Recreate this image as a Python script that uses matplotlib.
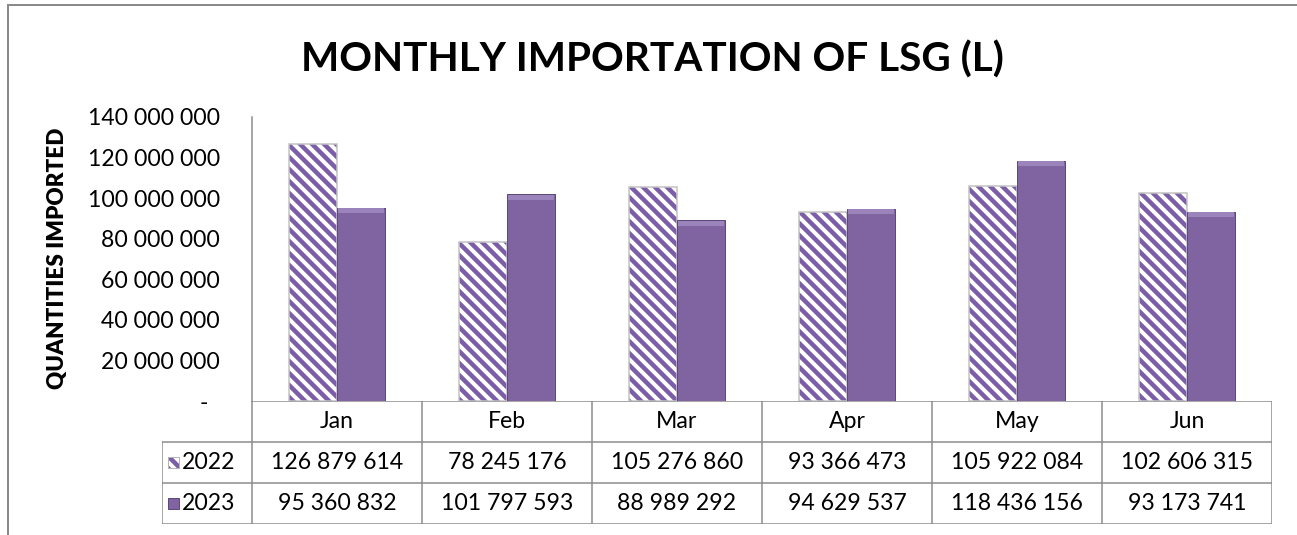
import matplotlib
matplotlib.use("Agg")
import matplotlib.pyplot as plt
import numpy as np
from matplotlib.patches import Rectangle
from matplotlib.lines import Line2D

# data
months = ["Jan", "Feb", "Mar", "Apr", "May", "Jun"]
years = ["2022", "2023"]
y2022 = [126879614, 78245176, 105276860, 93366473, 105922084, 102606315]
y2023 = [95360832, 101797593, 88989292, 94629537, 118436156, 93173741]
yticks = [0, 20000000, 40000000, 60000000, 80000000, 100000000, 120000000, 140000000]

W, H, DPI = 1297, 535, 72
PURPLE = "#8064a2"
STRIPE = "#7b5ea7"
GRID = "#8a8a8a"

plt.rcParams["font.family"] = ["Lato", "DejaVu Sans"]
plt.rcParams["hatch.linewidth"] = 4.5


def fx(px):
    return px / W


def fy(py):
    return 1 - py / H


def fmt(v):
    if v == 0:
        return "-  "
    return f"{v:,}".replace(",", " ")


fig = plt.figure(figsize=(W / DPI, H / DPI), dpi=DPI)

# outer chart frame (only top and left edges are inside the picture)
fig.add_artist(Line2D([fx(8), fx(8)], [fy(5), 0], color=GRID, lw=2))
fig.add_artist(Line2D([fx(8), 1], [fy(5), fy(5)], color=GRID, lw=2))

fig.text(fx(652), fy(72), "MONTHLY IMPORTATION OF LSG (L)", ha="center",
         va="baseline", fontsize=40.5, fontweight="bold")
fig.text(fx(58), fy(258), "QUANTITIES IMPORTED", rotation=90, ha="center",
         va="center", fontsize=22.5, fontweight="heavy")

# plot area
left, right, top, bottom = 252, 1272, 117, 401
ax = fig.add_axes([fx(left), fy(bottom), fx(right - left), fy(top) - fy(bottom)])
x = np.arange(len(months))
w = 0.285
v22 = np.array(y2022)
v23 = np.array(y2023)

ax.bar(x - w / 2, v22, w, color="white", edgecolor=STRIPE, hatch="\\\\", lw=0)
ax.bar(x - w / 2, v22, w, fill=False, edgecolor="#c2c2c2", lw=1.5)
ax.bar(x + w / 2, v23, w, color=PURPLE, edgecolor="#5e4a7a", lw=1)
band = 2.4e6
ax.bar(x + w / 2, band, w * 0.94, bottom=v23 - band * 1.05, color="#9a84bb", lw=0)

ax.set_xlim(-0.5, len(months) - 0.5)
ax.set_ylim(0, 140000000)
ax.set_yticks(yticks)
ax.set_yticklabels([fmt(v) for v in yticks], fontsize=23)
ax.tick_params(axis="y", length=0, pad=32)
ax.set_xticks([])
for s in ["top", "right", "bottom"]:
    ax.spines[s].set_visible(False)
ax.spines["left"].set_color(GRID)
ax.spines["left"].set_linewidth(1.5)

# data table under the plot
tl, tb = 162, 524
tab = fig.add_axes([fx(tl), fy(tb), fx(right - tl), fy(bottom) - fy(tb)])
lx = -0.5 - (left - tl) / ((right - left) / len(months))
tab.set_xlim(lx, len(months) - 0.5)
tab.set_ylim(3, 0)
tab.axis("off")
lk = dict(color=GRID, lw=1.5, solid_capstyle="projecting")
tab.plot([-0.5, len(months) - 0.5], [0, 0], **lk)
for r in [1, 2, 3]:
    tab.plot([lx, len(months) - 0.5], [r, r], **lk)
for k in range(len(months) + 1):
    tab.plot([k - 0.5, k - 0.5], [0, 3], **lk)
tab.plot([lx, lx], [1, 3], **lk)

for i, m in enumerate(months):
    tab.text(i, 0.5, m, ha="center", va="center", fontsize=23)
    tab.text(i, 1.5, fmt(y2022[i]), ha="center", va="center", fontsize=23)
    tab.text(i, 2.5, fmt(y2023[i]), ha="center", va="center", fontsize=23)

unit = (right - left) / len(months)
kw_, kh_ = 11 / unit, 11 / ((tb - bottom) / 3)
kx = lx + 6 / unit
tab.add_patch(Rectangle((kx, 1.5 - kh_ / 2), kw_, kh_, facecolor="white",
                        edgecolor=STRIPE, hatch="\\\\", lw=0))
tab.add_patch(Rectangle((kx, 1.5 - kh_ / 2), kw_, kh_, fill=False,
                        edgecolor="#b5b5b5", lw=1))
tab.add_patch(Rectangle((kx, 2.5 - kh_ / 2), kw_, kh_, facecolor=PURPLE,
                        edgecolor="#5e4a7a", lw=1))
for r, yr in zip([1.5, 2.5], years):
    tab.text(lx + 20 / unit, r, yr, ha="left", va="center", fontsize=23)

fig.savefig("out.png", dpi=DPI)
